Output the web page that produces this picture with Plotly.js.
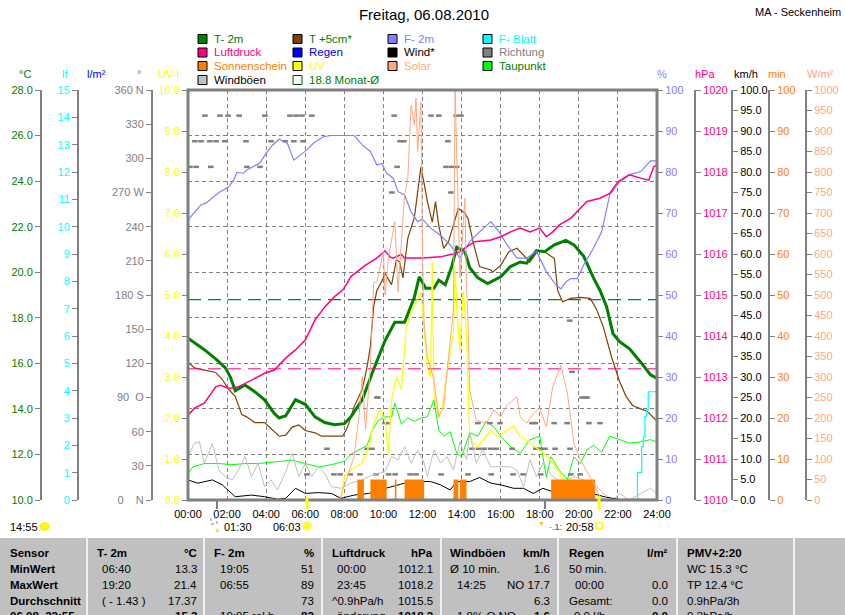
<!DOCTYPE html>
<html><head><meta charset="utf-8">
<script src="https://cdn.plot.ly/plotly-3.0.1.min.js"></script>
<style>html,body{margin:0;padding:0;background:#fff}#chart{width:845px;height:615px}</style>
</head><body><div id="chart"></div>
<script>
// ---------------- data (time "HH:MM", value) ----------------
var T2M = [['00:00',17.1],['00:20',16.9],['00:50',16.6],['01:25',16.2],['01:55',15.8],['02:10',15.4],['02:25',14.8],['02:55',15.05],['03:25',14.75],['03:55',14.4],['04:25',13.8],['04:40',13.6],['05:00',13.7],['05:30',14.4],['06:00',14.2],['06:30',13.65],['07:00',13.4],['07:30',13.3],['08:00',13.35],['08:20',13.65],['08:55',14.4],['09:25',15.55],['10:05',17.0],['10:35',17.8],['11:05',17.8],['11:35',18.9],['11:50',19.8],['12:10',19.3],['12:35',19.3],['12:50',19.65],['13:10',19.45],['13:30',20.25],['13:45',21.1],['14:10',20.9],['14:25',20.2],['14:50',19.75],['15:20',19.5],['16:00',19.8],['16:30',20.25],['17:00',20.45],['17:20',20.4],['17:50',20.95],['18:15',20.9],['18:45',21.2],['19:20',21.4],['19:45',21.2],['20:15',20.7],['20:45',19.75],['21:05',19.2],['21:25',18.5],['21:45',17.3],['22:05',16.95],['22:35',16.65],['23:10',16.05],['23:40',15.5],['23:59',15.35]];
var T5CM = [['00:00',16.05],['00:20',15.8],['00:50',15.7],['01:25',15.6],['01:45',15.3],['02:05',14.85],['02:25',14.55],['02:45',13.75],['03:00',13.65],['03:25',13.4],['03:55',13.4],['04:25',13.0],['04:40',12.8],['05:00',12.85],['05:20',13.2],['05:40',13.3],['06:00',13.05],['06:30',12.95],['06:50',12.8],['07:20',12.8],['07:55',12.8],['08:10',13.2],['08:30',14.1],['08:55',14.85],['09:10',15.85],['09:20',16.75],['09:30',18.5],['09:40',19.2],['09:55',19.6],['10:05',19.95],['10:25',19.45],['10:40',20.55],['10:50',20.45],['11:00',19.75],['11:15',21.5],['11:35',22.4],['11:45',23.4],['11:55',24.6],['12:05',23.9],['12:15',23.1],['12:30',22.2],['12:40',23.1],['12:50',22.05],['13:05',21.05],['13:20',21.35],['13:35',22.05],['13:50',22.8],['14:10',22.6],['14:20',22.35],['14:35',21.35],['14:55',20.25],['15:30',20.1],['15:35',20.0],['16:00',20.3],['16:25',20.9],['16:50',21.05],['17:10',20.75],['17:30',20.45],['17:55',20.95],['18:15',20.9],['18:45',20.6],['18:55',19.2],['19:10',18.7],['19:35',18.85],['20:05',18.9],['20:35',18.85],['20:55',18.35],['21:15',17.6],['21:40',16.3],['22:05',15.2],['22:25',14.55],['22:45',14.15],['23:10',14.0],['23:30',13.9],['23:50',13.6],['23:59',13.5]];
var DEWPOINT = [['00:00',11.15],['00:15',11.45],['00:50',11.6],['01:35',11.6],['02:15',11.55],['02:55',11.6],['03:35',11.6],['04:15',11.65],['05:00',11.7],['05:20',11.75],['06:00',11.6],['06:40',11.45],['07:20',11.55],['08:00',11.7],['08:20',12.0],['08:45',12.2],['09:10',12.4],['09:25',13.05],['09:45',13.5],['10:05',13.65],['10:25',13.65],['10:35',14.25],['10:55',13.35],['11:15',13.6],['11:35',13.45],['11:55',13.6],['12:15',13.65],['12:35',14.4],['12:50',13.05],['13:05',12.8],['13:25',13.0],['13:45',12.05],['14:00',11.9],['14:25',12.95],['14:50',12.8],['15:15',13.45],['15:40',13.2],['16:00',12.8],['16:30',12.35],['17:00',12.05],['17:30',12.65],['18:00',12.8],['18:20',11.0],['18:35',11.9],['19:00',11.3],['19:25',10.9],['19:45',11.9],['20:05',11.6],['20:25',12.2],['20:45',12.4],['21:10',12.1],['21:35',12.8],['22:05',12.65],['22:35',12.5],['23:10',12.55],['23:40',12.65],['23:59',12.55]];
var HUMIDITY = [['00:00',68.3],['00:25',70.7],['00:40',72],['00:55',72.4],['01:20',74],['01:35',75],['02:05',76.4],['02:20',78],['02:30',79.9],['02:50',79.7],['03:00',80.5],['03:20',81.3],['03:40',82.1],['04:00',84.6],['04:20',86.6],['04:40',88],['05:05',87],['05:25',82.9],['05:45',84.1],['06:05',85.4],['06:25',87],['06:55',88.6],['07:20',88.9],['08:30',88.9],['08:55',86.6],['09:20',85],['09:40',81.7],['09:55',82.1],['10:10',79.7],['10:30',78.5],['10:45',75.2],['11:05',74.4],['11:25',70.3],['11:45',67.9],['12:00',68.5],['12:25',66.3],['12:55',64.6],['13:25',62.2],['13:55',59],['14:25',63],['14:55',65.4],['15:30',67.9],['15:55',65.4],['16:20',62.2],['16:50',59],['17:20',59],['17:50',60.6],['18:20',55.7],['18:50',52.4],['19:05',51.5],['19:20',53.2],['19:35',54],['19:55',54],['20:15',57.3],['20:45',61.4],['21:10',65.4],['21:35',74.4],['22:05',77.6],['22:35',79.3],['23:10',80.1],['23:40',82.7],['23:59',82.7]];
var PRESSURE = [['00:00',1012.07],['00:20',1012.24],['00:50',1012.36],['01:25',1012.76],['01:40',1012.8],['02:05',1012.72],['02:35',1012.76],['03:05',1012.89],['03:25',1012.97],['03:55',1013.09],['04:25',1013.17],['05:00',1013.46],['05:30',1013.66],['06:00',1013.9],['06:30',1014.39],['07:00',1014.71],['07:30',1014.96],['07:55',1015.12],['08:05',1015.24],['08:20',1015.45],['09:05',1015.73],['09:40',1015.9],['10:05',1016.08],['10:20',1015.93],['10:30',1015.9],['10:55',1015.99],['11:05',1015.9],['12:00',1015.9],['12:55',1015.93],['13:45',1016.02],['14:40',1016.3],['15:30',1016.34],['16:00',1016.42],['16:30',1016.54],['17:00',1016.63],['17:30',1016.54],['18:00',1016.63],['18:20',1016.42],['18:40',1016.54],['19:00',1016.71],['19:35',1016.87],['20:05',1017.11],['20:25',1017.28],['21:05',1017.36],['21:35',1017.48],['22:00',1017.76],['22:35',1017.93],['23:10',1017.85],['23:35',1017.8],['23:50',1018.13],['23:59',1018.17]];
var WIND = [['00:00',4.9],['00:30',4.1],['01:15',4.9],['01:45',3.7],['02:25',0.8],['03:15',1.2],['03:55',0.8],['04:35',0.2],['05:00',0.4],['05:30',2.85],['06:00',1.6],['06:40',1.8],['07:20',1.6],['07:50',0.4],['08:30',1.2],['09:15',1.6],['09:55',2.6],['10:25',3.25],['11:05',4.1],['11:50',4.5],['12:25',4.5],['12:55',3.7],['13:25',2.45],['13:45',4.5],['14:25',4.5],['14:55',5.5],['15:30',4.1],['16:00',3.7],['16:40',2.85],['17:10',2.85],['17:40',1.6],['18:10',2.85],['18:40',2.0],['19:25',1.6],['20:05',2.6],['20:45',1.5],['21:25',0.65],['22:05',0.15],['23:59',0.15]];
var GUSTS = [['00:00',11],['00:20',13.8],['00:35',14.2],['00:50',9],['01:15',13.8],['01:35',7.3],['01:55',5.7],['02:15',4.9],['02:35',7.3],['02:55',10.6],['03:15',5.7],['03:35',9],['03:55',3.25],['04:15',4.9],['04:35',2.45],['05:00',6.9],['05:20',11.4],['05:40',5.7],['06:00',9],['06:20',5.7],['06:40',8.1],['07:00',6.5],['07:20',3.25],['07:50',2.85],['08:20',4.1],['08:55',4.9],['09:25',6.1],['10:05',6.9],['10:25',10.6],['10:45',9.8],['11:05',13],['11:25',9],['11:45',12.2],['12:05',9],['12:15',5.7],['12:35',12.2],['12:55',9],['13:15',10.6],['13:35',7.3],['13:55',14.2],['14:15',9.8],['14:25',16.5],['14:45',9],['15:05',12.2],['15:30',8.1],['16:00',8.1],['16:30',8.1],['16:50',7.3],['17:10',3.25],['17:30',9.8],['17:50',5.7],['18:10',9],['18:40',5.7],['19:10',4.1],['19:45',5.7],['20:15',4.9],['20:45',4.1],['21:15',1.6],['21:45',0],['22:05',1.6],['22:35',0],['23:10',1.6],['23:40',2.85],['23:59',1.6]];
var SOLAR = [['00:00',0],['07:45',0],['07:55',24],['08:10',57],['08:30',106],['08:45',203],['08:55',301],['09:05',171],['09:20',325],['09:30',530],['09:40',532],['10:00',606],['10:05',500],['10:15',589],['10:35',679],['10:45',508],['11:05',744],['11:15',785],['11:25',963],['11:35',915],['11:40',980],['11:45',850],['11:50',907],['11:55',971],['12:00',600],['12:05',431],['12:15',350],['12:35',293],['12:50',203],['13:05',228],['13:20',350],['13:35',463],['13:40',1000],['13:45',825],['13:55',541],['14:10',736],['14:15',524],['14:20',431],['14:25',268],['14:45',195],['15:15',187],['15:40',220],['16:00',203],['16:20',232],['16:50',252],['17:00',203],['17:20',187],['17:40',211],['18:00',224],['18:20',179],['18:40',276],['19:05',329],['19:25',260],['19:45',138],['20:05',98],['20:25',69],['20:45',41],['21:05',8],['21:25',0],['23:59',0]];
var UVINDEX = [['00:00',0],['07:50',0],['08:00',0.57],['08:20',0.73],['08:55',0.9],['09:15',1.3],['09:25',1.7],['09:35',1.95],['09:50',2.2],['10:05',1.95],['10:15',1.15],['10:25',2.45],['10:40',3.0],['10:55',2.7],['11:10',4.2],['11:25',4.6],['11:45',4.9],['11:55',5.1],['12:05',4.15],['12:15',3.25],['12:25',3.0],['12:30',5.8],['12:35',2.6],['12:50',2.0],['13:00',2.2],['13:15',3.1],['13:35',4.1],['13:40',5.7],['13:45',4.7],['13:55',3.65],['14:05',5.1],['14:15',4.1],['14:25',1.55],['14:35',1.4],['14:50',1.3],['15:05',1.45],['15:30',1.7],['15:50',1.55],['16:20',1.7],['16:40',1.8],['17:00',1.55],['17:20',1.45],['17:45',1.3],['18:10',1.15],['18:30',1.0],['18:50',0.8],['19:10',0.55],['19:35',0],['23:59',0]];
var LEAFWET = [['22:50',0],['22:58',0],['23:00',1.0],['23:10',1.0],['23:13',1.95],['23:18',2.3],['23:23',3.05],['23:28',3.3],['23:33',3.96],['23:59',3.96]];
var DIRECTION = [['00:06',292.5],['00:21',315],['00:25',292.5],['00:40',315],['00:52',337.5],['01:07',315],['01:10',292.5],['01:26',315],['01:38',337.5],['01:53',315],['02:03',337.5],['02:37',337.5],['02:58',315],['03:01',292.5],['03:41',292.5],['03:56',337.5],['04:15',315],['04:58',315],['05:13',337.5],['05:25',315],['05:32',337.5],['05:50',337.5],['05:53',315],['06:05',22.5],['06:20',337.5],['07:07',45],['07:28',22.5],['07:47',22.5],['08:18',22.5],['08:48',22.5],['09:10',45],['09:25',45],['09:37',22.5],['09:40',90],['09:43',90],['10:05',67.5],['10:14',67.5],['10:16',22.5],['10:26',270],['10:33',337.5],['10:36',22.5],['10:42',292.5],['10:51',315],['11:03',315],['11:22',22.5],['11:40',22.5],['12:26',337.5],['12:50',337.5],['12:57',22.5],['13:12',292.5],['13:18',315],['13:27',270],['13:30',292.5],['13:43',337.5],['13:45',292.5],['13:58',337.5],['14:20',22.5],['14:32',45],['14:50',67.5],['14:52',45],['15:09',45],['15:27',67.5],['15:29',45],['15:31',22.5],['15:46',45],['15:58',67.5],['16:35',45],['16:38',22.5],['17:09',22.5],['17:36',67.5],['17:46',67.5],['17:48',45],['18:01',45],['18:03',22.5],['18:16',45],['18:44',67.5],['18:47',45],['19:24',67.5],['19:32',157.5],['19:33',45],['19:35',22.5],['19:39',112.5],['20:04',22.5],['20:10',90],['20:19',90],['20:25',90],['20:31',67.5],['21:05',67.5]];
var SUN_FROM = ['08:40','09:20','10:35','11:05','13:35','13:55','18:35'];
var SUN_TO   = ['09:00','10:10','10:40','12:05','13:50','14:15','20:50'];
var SUN_MIN  = [5,5,5,5,5,5,5];
var MONTH_MEAN = 18.8;
var REF_PRESSURE = 1013.2;
var HOUR_TICKS = [0,2,4,6,8,10,12,14,16,18,20,22,24];
var HOUR_LABELS = ['00:00','02:00','04:00','06:00','08:00','10:00','12:00','14:00','16:00','18:00','20:00','22:00','24:00'];
var DIR_TICKS = [0,30,60,90,120,150,180,210,240,270,300,330,360];
var DIR_LABELS = ['0\u00a0\u00a0\u00a0\u00a0N','30','60','90\u00a0\u00a0O','120','150','180\u00a0S','210','240','270\u00a0W','300','330','360\u00a0N'];
var LEGEND = [
 ['T- 2m','#008000','#008000'],['T +5cm*','#804000','#008000'],['F- 2m','#8080FF','#8080FF'],['F- Blatt','#00FFFF','#00FFFF'],
 ['Luftdruck','#FF0080','#FF0080'],['Regen','#0000FF','#0000FF'],['Wind*','#000000','#000000'],['Richtung','#808080','#808080'],
 ['Sonnenschein','#FF8000','#FF8000'],['UV','#FFFF00','#FFFF00'],['Solar','#FFA880','#FFA880'],['Taupunkt','#00FF00','#008000'],
 ['Windböen','#C0C0C0','#000000'],['18.8 Monat-Ø',null,'#008000']
];
var TABLE_HEAD = [['Sensor',8,'l'],['T- 2m',95,'l'],['°C',199,'r'],['F- 2m',212,'l'],['%',316,'r'],['Luftdruck',330,'l'],['hPa',435,'r'],['Windböen',448,'l'],['km/h',552,'r'],['Regen',567,'l'],['l/m²',670,'r'],['PMV+2:20',685,'l']];
var TABLE_ROWS = [
 [['<b>MinWert</b>',8,'l'],['06:40',100,'l'],['13.3',199,'r'],['19:05',218,'l'],['51',316,'r'],['00:00',335,'l'],['1012.1',435,'r'],['Ø 10 min.',448,'l'],['1.6',552,'r'],['50 min.',567,'l'],['WC 15.3 °C',685,'l']],
 [['<b>MaxWert</b>',8,'l'],['19:20',100,'l'],['21.4',199,'r'],['06:55',218,'l'],['89',316,'r'],['23:45',335,'l'],['1018.2',435,'r'],['14:25',455,'l'],['NO 17.7',552,'r'],['00:00',573,'l'],['0.0',670,'r'],['TP 12.4 °C',685,'l']],
 [['<b>Durchschnitt</b>',8,'l'],['( - 1.43 )',100,'l'],['17.37',199,'r'],['73',316,'r'],['^0.9hPa/h',330,'l'],['1015.5',435,'r'],['6.3',552,'r'],['Gesamt:',567,'l'],['0.0',670,'r'],['0.9hPa/3h',685,'l']],
 [['<b>06.08. 22:55</b>',8,'l'],['<b>15.3</b>',199,'r'],['19:05 rel.h',218,'l'],['<b>82</b>',316,'r'],['änderung',335,'l'],['<b>1018.2</b>',435,'r'],['1.8% O NO',455,'l'],['<b>1.6</b>',552,'r'],['0.0 l/h',572,'l'],['<b>0.0</b>',670,'r'],['0.3hPa/h',685,'l']]
];

// ---------------- helpers ----------------
var FONT = 'Arial, "Liberation Sans", sans-serif';
var W = 845;
function X(px){ return px / W; }
function Y(py){ return (500 - py) / 410; }
function hr(t){ var a = t.split(':'); return Number(a[0]) + Number(a[1]) / 60; }
function xs(s){ return s.map(function(d){ return hr(d[0]); }); }
function vs(s){ return s.map(function(d){ return d[1]; }); }
function line(s, axis, color, width, shape){
  return {type:'scatter', mode:'lines', x:xs(s), y:vs(s), yaxis:axis,
    line:{color:color, width:width, shape:shape || 'linear'}, hoverinfo:'skip', showlegend:false};
}

var traces = [];
traces.push({type:'bar', yaxis:'y9', showlegend:false, hoverinfo:'skip',
  x: SUN_FROM.map(function(f,i){ return (hr(f) + hr(SUN_TO[i])) / 2; }),
  width: SUN_FROM.map(function(f,i){ return hr(SUN_TO[i]) - hr(f); }),
  y: SUN_MIN, marker:{color:'#FF8000', line:{width:0}}});
traces.push({type:'scatter', mode:'markers', x:xs(DIRECTION), y:vs(DIRECTION), yaxis:'y4', hoverinfo:'skip', showlegend:false,
  marker:{symbol:'line-ew', size:4, color:'#808080', line:{color:'#808080', width:2.5}}});
traces.push(line(GUSTS, 'y8', '#C0C0C0', 1));
traces.push(line(SOLAR, 'y10', '#FFA880', 1));
traces.push(line(WIND, 'y8', '#000000', 1));
traces.push(line(UVINDEX, 'y5', '#FFFF00', 1.3));
traces.push(line(DEWPOINT, 'y', '#00FF00', 1));
traces.push(line(LEAFWET, 'y2', '#00FFFF', 1.2, 'hv'));
traces.push({type:'scatter', mode:'lines', x:[0,24], y:[MONTH_MEAN, MONTH_MEAN], yaxis:'y', hoverinfo:'skip', showlegend:false,
  line:{color:'#008040', width:1.3, dash:'13px,7px'}});
traces.push({type:'scatter', mode:'lines', x:[0,24], y:[REF_PRESSURE, REF_PRESSURE], yaxis:'y7', hoverinfo:'skip', showlegend:false,
  line:{color:'#FF0080', width:1, dash:'13px,7px'}});
traces.push(line(HUMIDITY, 'y6', '#8080FF', 1.2));
traces.push(line(PRESSURE, 'y7', '#FF0080', 1.5));
traces.push(line(T5CM, 'y', '#804000', 1.2));
traces.push(line(T2M, 'y', '#008000', 3));

function yax(pos, side, range, color, extra){
  var o = {anchor:'free', overlaying:'y', position:pos, side:side, range:range,
    showgrid:false, zeroline:false, showline:true, linecolor:'#808080', linewidth:2,
    ticks:'outside', ticklen:5, tickcolor:'#808080', tickwidth:1,
    tickfont:{family:FONT, size:11, color:color}, fixedrange:true};
  for (var k in extra) o[k] = extra[k];
  return o;
}

var layout = {
  width:845, height:615, margin:{l:0, r:0, t:90, b:115},
  paper_bgcolor:'#FFFFFF', plot_bgcolor:'#FFFFFF', showlegend:false,
  font:{family:FONT, size:11, color:'#000'},
  title:{text:'Freitag, 06.08.2010', x:424/845, xref:'paper', xanchor:'center', y:1-15/615, yref:'container', yanchor:'middle',
    font:{family:FONT, size:15, color:'#000'}},
  xaxis:{domain:[188/845, 657/845], range:[0,24], tickvals:HOUR_TICKS, ticktext:HOUR_LABELS,
    showgrid:true, gridcolor:'#808080', gridwidth:1, griddash:'4px,3px', zeroline:false, showline:false,
    ticks:'', ticklabelstandoff:6, tickfont:{family:FONT, size:11, color:'#000'}, fixedrange:true},
  yaxis:{anchor:'free', position:41/845, side:'left', range:[10,28], tick0:10, dtick:2, tickformat:'.1f',
    showgrid:true, gridcolor:'#808080', gridwidth:1, griddash:'4px,3px', zeroline:false,
    showline:true, linecolor:'#808080', linewidth:2, ticks:'outside', ticklen:5, tickcolor:'#808080',
    tickfont:{family:FONT, size:11, color:'#008000'}, fixedrange:true},
  yaxis2: yax(78/845, 'left', [0,15], '#00FFFF', {tick0:0, dtick:1}),
  yaxis3: yax(115/845, 'left', [0,5], '#0000FF', {tick0:0, dtick:1, tickformat:'.1f'}),
  yaxis4: yax(152/845, 'left', [0,360], '#808080', {tickvals:DIR_TICKS, ticktext:DIR_LABELS}),
  yaxis5: yax(188/845, 'left', [0,10], '#FFFF00', {tick0:0, dtick:1, tickformat:'.1f'}),
  yaxis6: yax(657/845, 'right', [0,100], '#8080FF', {tick0:0, dtick:10}),
  yaxis7: yax(695/845, 'right', [1010,1020], '#FF0080', {tick0:1010, dtick:1}),
  yaxis8: yax(732/845, 'right', [0,100], '#000000', {tick0:0, dtick:5, tickformat:'.1f'}),
  yaxis9: yax(769/845, 'right', [0,100], '#FF8000', {tick0:0, dtick:10}),
  yaxis10: yax(806/845, 'right', [0,1000], '#FFA880', {tick0:0, dtick:50}),
  shapes:[], annotations:[]
};

function ann(x, y, text, color, size, anchor){
  layout.annotations.push({xref:'paper', yref:'paper', x:X(x), y:Y(y), text:text, showarrow:false,
    xanchor:anchor || 'center', yanchor:'middle', font:{family:FONT, size:size || 11, color:color || '#000'}});
}
function rect(x0, y0, x1, y1, fill, lineColor, lw, layer, dash){
  layout.shapes.push({type:'rect', xref:'paper', yref:'paper', x0:X(x0), x1:X(x1), y0:Y(y1), y1:Y(y0),
    fillcolor:fill || 'rgba(0,0,0,0)', line:{color:lineColor || 'rgba(0,0,0,0)', width:lw || 0, dash:dash || 'solid'}, layer:layer || 'above'});
}
function seg(x0, y0, x1, y1, color, lw){
  layout.shapes.push({type:'line', xref:'paper', yref:'paper', x0:X(x0), x1:X(x1), y0:Y(y0), y1:Y(y1), line:{color:color, width:lw}});
}

// plot frame
rect(188, 90, 657, 500, null, '#808080', 3);

// axis titles
[['°C',25,'#008000'],['lf',65,'#00FFFF'],['l/m²',96,'#0000FF'],['°',139,'#808080'],['UV-I',168,'#FFFF00'],
 ['%',662,'#8080FF'],['hPa',705,'#FF0080'],['km/h',746,'#000000'],['min',777,'#FF8000'],['W/m²',820,'#FFA880']]
 .forEach(function(a){ ann(a[1], 74, a[0], a[2], 11); });

ann(753, 12, 'MA - Seckenheim', '#000', 11, 'left');

// legend
var sqX = [198, 293, 388, 483], txX = [212, 307, 402, 497], rowY = [39, 52.5, 66, 80];
LEGEND.forEach(function(it, i){
  var c = i % 4, r = Math.floor(i / 4);
  if (it[1]) rect(sqX[c], rowY[r]-4.5, sqX[c]+9, rowY[r]+4.5, it[1], '#000000', 1);
  else rect(sqX[c], rowY[r]-4.5, sqX[c]+9, rowY[r]+4.5, null, '#005000', 1);
  ann(txX[c], rowY[r], it[0], it[2], 11.5, 'left');
});

// sunrise / moon markers under the plot
seg(217, 500, 217, 509, '#808080', 2);
seg(307, 497, 307, 509, '#FFFF00', 3);
seg(545, 500, 545, 509, '#808080', 2);
seg(599, 496, 599, 509, '#FFFF00', 3);
ann(24, 527, '14:55', '#000', 11);
layout.shapes.push({type:'circle', xref:'paper', yref:'paper', x0:X(40), x1:X(49), y0:Y(530), y1:Y(523), fillcolor:'#FFFF00', line:{color:'#FFE000', width:1}});
rect(211, 518, 217, 524, null, '#8080C0', 1, 'above', 'dot');
ann(217, 529, '▲', '#FFE000', 7);
ann(222, 527, '01:30', '#000', 11, 'left');
ann(287, 527, '06:03', '#000', 11);
layout.shapes.push({type:'circle', xref:'paper', yref:'paper', x0:X(303), x1:X(311), y0:Y(530), y1:Y(522), fillcolor:'#FFFF00', line:{color:'#FFF080', width:2}});
ann(541, 523, '▼', '#E0D000', 7);
ann(547, 527, '·.1:', '#404060', 9, 'left');
ann(580, 527, '20:58', '#000', 11);
rect(596, 523, 602, 529, null, '#FFFF00', 1.5);

// statistics table
rect(0, 538, 845, 616, '#C0C0C0', null, 0, 'below');
[87, 204, 322, 441, 558, 677, 794].forEach(function(x){ seg(x, 538, x, 616, '#F0F0F0', 2); });
TABLE_HEAD.forEach(function(c){ ann(c[1], 553, '<b>' + c[0] + '</b>', '#000', 11.5, c[2] === 'l' ? 'left' : 'right'); });
var rowYs = [569, 585, 601, 616];
TABLE_ROWS.forEach(function(row, r){
  row.forEach(function(c){ ann(c[1], rowYs[r], c[0], '#000', 11.5, c[2] === 'l' ? 'left' : 'right'); });
});

Plotly.newPlot('chart', traces, layout, {staticPlot:true, displayModeBar:false});
</script></body></html>
